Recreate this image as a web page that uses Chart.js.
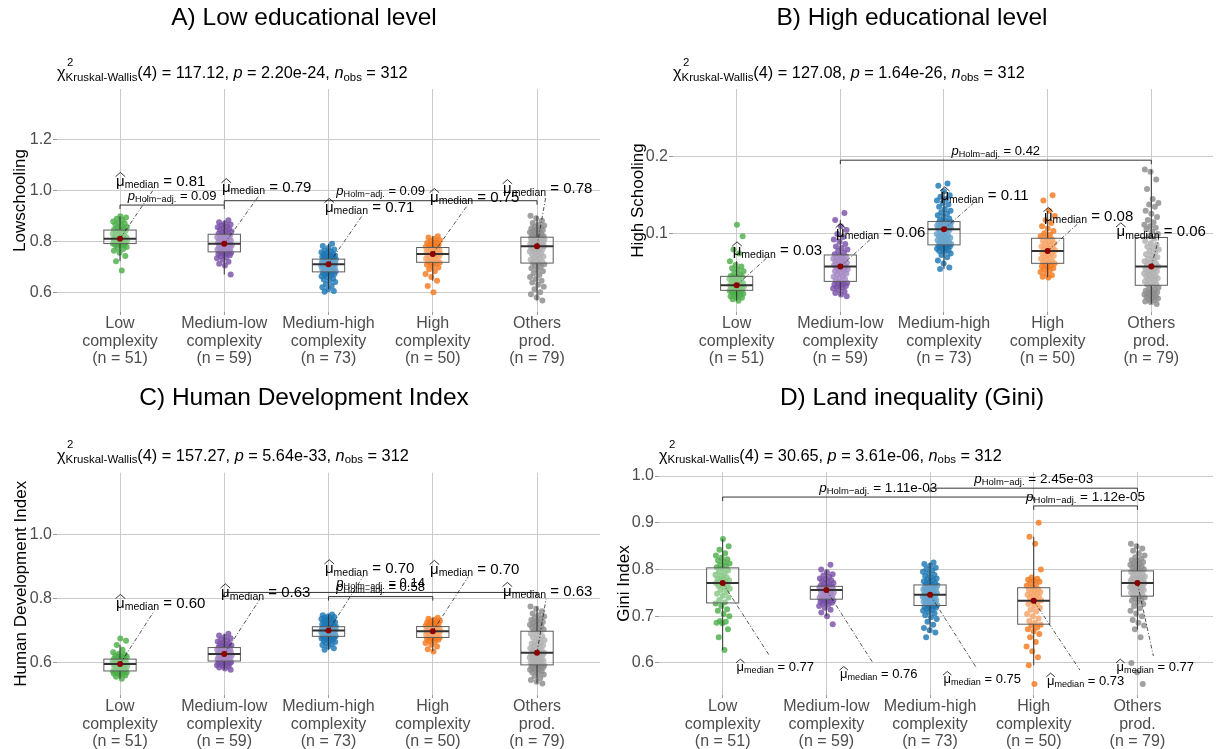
<!DOCTYPE html>
<html>
<head>
<meta charset="utf-8">
<script src="https://cdn.jsdelivr.net/npm/chart.js@4.4.1/dist/chart.umd.min.js"></script>
<style>
  html, body { margin: 0; padding: 0; background: #ffffff; }
  #wrap { position: relative; width: 1216px; height: 749px; overflow: hidden; }
  canvas { position: absolute; }
</style>
</head>
<body>
<div id="wrap">
  <canvas id="cA" width="608" height="380" style="left:0;top:0"></canvas>
  <canvas id="cB" width="608" height="380" style="left:608px;top:0"></canvas>
  <canvas id="cC" width="608" height="369" style="left:0;top:380px"></canvas>
  <canvas id="cD" width="608" height="369" style="left:608px;top:380px"></canvas>
</div>
<script>
// ---------- data ----------
const categories = ['Low complexity', 'Medium-low complexity', 'Medium-high complexity', 'High complexity', 'Others prod.'];

// share of population with low schooling, per municipality, by export complexity group
const lowSchooling = [
  [0.685,0.722,0.742,0.755,0.763,0.770,0.775,0.778,0.782,0.785,0.787,0.789,0.790,0.792,0.794,0.796,0.798,0.800,0.801,0.803,0.804,0.806,0.807,0.808,0.809,0.810,0.812,0.814,0.816,0.818,0.820,0.823,0.826,0.829,0.832,0.836,0.840,0.843,0.845,0.848,0.852,0.856,0.860,0.865,0.870,0.874,0.878,0.883,0.888,0.893,0.898],
  [0.670,0.705,0.712,0.720,0.728,0.733,0.738,0.742,0.745,0.748,0.750,0.752,0.754,0.755,0.757,0.760,0.763,0.766,0.768,0.770,0.772,0.774,0.776,0.778,0.780,0.782,0.784,0.786,0.788,0.790,0.792,0.795,0.798,0.800,0.803,0.806,0.808,0.811,0.814,0.816,0.819,0.821,0.823,0.826,0.829,0.832,0.835,0.838,0.841,0.845,0.848,0.852,0.855,0.858,0.862,0.866,0.870,0.875,0.882],
  [0.602,0.605,0.612,0.620,0.625,0.632,0.640,0.645,0.650,0.655,0.660,0.663,0.666,0.669,0.672,0.674,0.676,0.678,0.680,0.682,0.684,0.686,0.688,0.690,0.692,0.693,0.695,0.696,0.698,0.700,0.701,0.703,0.704,0.706,0.707,0.709,0.710,0.711,0.712,0.713,0.714,0.715,0.716,0.717,0.718,0.719,0.720,0.721,0.722,0.724,0.725,0.726,0.727,0.729,0.730,0.732,0.734,0.736,0.738,0.740,0.742,0.744,0.746,0.748,0.751,0.754,0.757,0.760,0.764,0.768,0.774,0.781,0.790],
  [0.600,0.625,0.645,0.660,0.672,0.682,0.690,0.697,0.703,0.708,0.712,0.715,0.717,0.719,0.722,0.725,0.728,0.731,0.734,0.737,0.740,0.743,0.745,0.747,0.749,0.751,0.753,0.755,0.757,0.759,0.761,0.763,0.765,0.767,0.769,0.771,0.774,0.776,0.778,0.781,0.784,0.787,0.790,0.793,0.796,0.800,0.804,0.809,0.815,0.820],
  [0.568,0.580,0.592,0.600,0.612,0.622,0.630,0.638,0.645,0.652,0.660,0.668,0.675,0.682,0.688,0.694,0.700,0.705,0.710,0.713,0.716,0.720,0.724,0.728,0.732,0.736,0.740,0.744,0.748,0.752,0.756,0.760,0.763,0.766,0.769,0.772,0.774,0.776,0.778,0.780,0.782,0.784,0.786,0.788,0.790,0.792,0.794,0.796,0.798,0.800,0.802,0.804,0.806,0.808,0.809,0.810,0.811,0.813,0.815,0.817,0.820,0.823,0.826,0.829,0.832,0.835,0.838,0.841,0.844,0.847,0.850,0.854,0.858,0.862,0.866,0.872,0.880,0.890,0.900]
];

// share of population with high schooling
const highSchooling = [
  [0.014,0.016,0.018,0.019,0.020,0.021,0.022,0.023,0.024,0.025,0.026,0.026,0.027,0.028,0.028,0.029,0.030,0.030,0.031,0.031,0.032,0.032,0.033,0.033,0.033,0.034,0.035,0.036,0.037,0.038,0.039,0.040,0.041,0.042,0.043,0.044,0.045,0.045,0.046,0.048,0.050,0.052,0.054,0.056,0.058,0.060,0.065,0.075,0.080,0.097,0.112],
  [0.020,0.022,0.024,0.026,0.028,0.030,0.031,0.032,0.033,0.034,0.035,0.036,0.036,0.037,0.038,0.040,0.042,0.043,0.045,0.046,0.048,0.049,0.050,0.052,0.053,0.054,0.055,0.056,0.057,0.058,0.059,0.060,0.061,0.062,0.063,0.064,0.065,0.066,0.067,0.068,0.069,0.070,0.071,0.072,0.074,0.076,0.078,0.080,0.082,0.084,0.087,0.090,0.093,0.096,0.100,0.105,0.110,0.118,0.127],
  [0.055,0.057,0.062,0.066,0.070,0.073,0.075,0.077,0.078,0.079,0.080,0.081,0.082,0.083,0.084,0.084,0.085,0.085,0.086,0.087,0.088,0.089,0.090,0.091,0.092,0.093,0.094,0.095,0.096,0.097,0.098,0.099,0.100,0.102,0.103,0.105,0.106,0.107,0.107,0.108,0.108,0.109,0.109,0.110,0.110,0.111,0.111,0.112,0.112,0.113,0.114,0.114,0.115,0.115,0.116,0.118,0.120,0.122,0.124,0.126,0.128,0.130,0.132,0.135,0.138,0.140,0.143,0.145,0.148,0.150,0.155,0.162,0.165],
  [0.044,0.045,0.047,0.049,0.051,0.053,0.055,0.056,0.057,0.058,0.059,0.060,0.062,0.063,0.064,0.065,0.067,0.068,0.069,0.071,0.072,0.073,0.075,0.076,0.077,0.079,0.080,0.081,0.082,0.083,0.084,0.086,0.087,0.088,0.090,0.091,0.093,0.095,0.097,0.099,0.101,0.104,0.107,0.110,0.114,0.118,0.123,0.130,0.143,0.150],
  [0.010,0.012,0.013,0.015,0.016,0.017,0.018,0.019,0.020,0.021,0.022,0.023,0.024,0.025,0.026,0.027,0.028,0.030,0.031,0.033,0.035,0.036,0.038,0.039,0.040,0.042,0.043,0.044,0.045,0.046,0.048,0.049,0.050,0.051,0.052,0.053,0.055,0.056,0.057,0.058,0.059,0.060,0.062,0.063,0.065,0.067,0.068,0.070,0.072,0.074,0.076,0.078,0.080,0.082,0.084,0.086,0.088,0.091,0.094,0.097,0.100,0.103,0.106,0.108,0.110,0.112,0.115,0.118,0.122,0.126,0.130,0.135,0.138,0.140,0.145,0.158,0.170,0.180,0.183]
];

// human development index
const humanDevelopment = [
  [0.550,0.556,0.560,0.563,0.565,0.567,0.568,0.569,0.570,0.571,0.572,0.573,0.573,0.575,0.577,0.579,0.581,0.583,0.585,0.587,0.589,0.591,0.592,0.594,0.595,0.596,0.597,0.598,0.599,0.600,0.601,0.602,0.603,0.604,0.605,0.607,0.608,0.610,0.612,0.614,0.616,0.618,0.620,0.622,0.625,0.628,0.632,0.640,0.655,0.668,0.675],
  [0.578,0.582,0.585,0.588,0.590,0.592,0.594,0.596,0.597,0.598,0.599,0.600,0.601,0.602,0.604,0.606,0.608,0.609,0.611,0.612,0.614,0.615,0.617,0.618,0.620,0.621,0.623,0.624,0.626,0.627,0.628,0.629,0.631,0.632,0.634,0.635,0.636,0.638,0.639,0.640,0.642,0.643,0.645,0.646,0.648,0.650,0.652,0.654,0.656,0.658,0.660,0.663,0.666,0.669,0.672,0.676,0.680,0.685,0.690],
  [0.640,0.645,0.650,0.655,0.658,0.661,0.664,0.667,0.669,0.671,0.673,0.675,0.676,0.677,0.678,0.679,0.680,0.681,0.682,0.683,0.684,0.685,0.686,0.687,0.688,0.689,0.690,0.691,0.692,0.693,0.694,0.695,0.696,0.697,0.698,0.699,0.700,0.701,0.702,0.702,0.703,0.704,0.704,0.705,0.706,0.706,0.707,0.708,0.708,0.709,0.710,0.710,0.711,0.712,0.712,0.714,0.716,0.718,0.720,0.722,0.724,0.726,0.728,0.730,0.732,0.734,0.736,0.738,0.740,0.742,0.745,0.748,0.750],
  [0.635,0.642,0.650,0.656,0.661,0.665,0.668,0.671,0.673,0.675,0.676,0.677,0.678,0.680,0.682,0.684,0.686,0.688,0.690,0.691,0.692,0.693,0.694,0.696,0.697,0.699,0.700,0.701,0.702,0.703,0.704,0.705,0.706,0.707,0.708,0.710,0.711,0.713,0.715,0.717,0.719,0.721,0.723,0.725,0.727,0.729,0.731,0.734,0.737,0.740],
  [0.535,0.540,0.546,0.552,0.558,0.563,0.567,0.570,0.573,0.576,0.578,0.580,0.582,0.584,0.586,0.587,0.588,0.590,0.591,0.592,0.594,0.596,0.598,0.600,0.602,0.604,0.606,0.608,0.610,0.612,0.614,0.616,0.618,0.620,0.622,0.624,0.626,0.628,0.630,0.631,0.633,0.636,0.639,0.642,0.645,0.648,0.651,0.654,0.657,0.660,0.663,0.666,0.670,0.674,0.678,0.682,0.686,0.690,0.696,0.700,0.703,0.706,0.709,0.712,0.715,0.718,0.721,0.724,0.727,0.730,0.733,0.736,0.740,0.744,0.748,0.753,0.760,0.768,0.775]
];

// Gini index of land ownership
const landGini = [
  [0.628,0.655,0.672,0.685,0.686,0.688,0.690,0.700,0.705,0.712,0.715,0.722,0.727,0.730,0.735,0.740,0.744,0.748,0.752,0.756,0.759,0.762,0.765,0.767,0.769,0.771,0.773,0.775,0.777,0.779,0.781,0.783,0.786,0.789,0.792,0.795,0.798,0.802,0.805,0.808,0.810,0.813,0.816,0.819,0.822,0.825,0.830,0.835,0.842,0.850,0.865],
  [0.683,0.700,0.708,0.714,0.718,0.722,0.725,0.727,0.729,0.730,0.731,0.732,0.733,0.734,0.736,0.737,0.738,0.739,0.740,0.742,0.743,0.744,0.745,0.747,0.748,0.750,0.751,0.753,0.754,0.756,0.757,0.757,0.758,0.758,0.759,0.759,0.760,0.760,0.761,0.761,0.762,0.762,0.763,0.763,0.765,0.767,0.769,0.771,0.773,0.775,0.777,0.779,0.781,0.784,0.787,0.790,0.794,0.800,0.810],
  [0.655,0.665,0.670,0.675,0.682,0.688,0.694,0.698,0.702,0.706,0.709,0.712,0.714,0.716,0.718,0.720,0.721,0.722,0.723,0.724,0.725,0.727,0.728,0.729,0.731,0.732,0.733,0.735,0.736,0.737,0.738,0.740,0.741,0.742,0.743,0.745,0.746,0.747,0.748,0.749,0.750,0.752,0.753,0.754,0.755,0.757,0.758,0.759,0.760,0.761,0.762,0.764,0.765,0.766,0.767,0.769,0.771,0.773,0.775,0.777,0.779,0.781,0.783,0.786,0.789,0.792,0.795,0.798,0.801,0.804,0.808,0.812,0.815],
  [0.555,0.595,0.612,0.625,0.635,0.645,0.655,0.662,0.668,0.672,0.676,0.680,0.682,0.686,0.690,0.695,0.700,0.705,0.710,0.714,0.718,0.722,0.726,0.729,0.732,0.734,0.737,0.740,0.742,0.744,0.746,0.748,0.750,0.752,0.754,0.756,0.758,0.762,0.765,0.768,0.771,0.774,0.776,0.778,0.780,0.783,0.800,0.855,0.870,0.900],
  [0.555,0.580,0.600,0.655,0.672,0.680,0.686,0.692,0.700,0.706,0.712,0.717,0.722,0.726,0.730,0.733,0.736,0.738,0.740,0.742,0.744,0.746,0.748,0.750,0.752,0.754,0.756,0.757,0.758,0.759,0.760,0.762,0.763,0.764,0.765,0.766,0.767,0.768,0.770,0.771,0.772,0.773,0.774,0.775,0.776,0.777,0.778,0.779,0.780,0.781,0.782,0.783,0.785,0.786,0.788,0.790,0.792,0.794,0.796,0.798,0.800,0.802,0.804,0.806,0.808,0.810,0.812,0.814,0.816,0.818,0.820,0.823,0.826,0.830,0.835,0.840,0.845,0.850,0.855]
];

// Kruskal-Wallis results: [chi-squared, p-value]
const kruskalLowSchooling = ['117.12', '2.20e-24'];
const kruskalHighSchooling = ['127.08', '1.64e-26'];
const kruskalHDI = ['157.27', '5.64e-33'];
const kruskalGini = ['30.65', '3.61e-06'];

// significant pairwise comparisons (Dunn, Holm-adjusted): [group a, group b, p]
const pairsLowSchooling = [[1, 2, '0.09'], [2, 5, '0.09']];
const pairsHighSchooling = [[2, 5, '0.42']];
const pairsHDI = [[2, 5, '0.14'], [3, 4, '0.58']];
const pairsGini = [[1, 4, '1.11e-03'], [3, 5, '2.45e-03'], [4, 5, '1.12e-05']];

// ---------- styling ----------
const FONT = "'Liberation Sans', Arial, Helvetica, sans-serif";
const groupColors = ['77,175,74', '122,82,168', '31,120,180', '244,122,32', '140,140,140'];
const GRID = '#cbcbcb';
const BOX_WIDTH = 0.31;
const JITTER = 0.072;

Chart.defaults.font.family = FONT;

// ---------- helpers ----------
function quantile(s, p) {
  const h = (s.length - 1) * p, lo = Math.floor(h);
  const hi = Math.min(lo + 1, s.length - 1);
  return s[lo] + (h - lo) * (s[hi] - s[lo]);
}
function boxStats(values) {
  const s = values.slice().sort((a, b) => a - b);
  const q1 = quantile(s, 0.25), med = quantile(s, 0.5), q3 = quantile(s, 0.75);
  const iqr = q3 - q1;
  const lo = s.find(v => v >= q1 - 1.5 * iqr);
  const hi = s.filter(v => v <= q3 + 1.5 * iqr).pop();
  return { q1, med, q3, lo, hi };
}
// deterministic horizontal spread of the points around each category
function jitter(i, k) {
  const u = ((i + 1) * 0.6180339887 + k * 0.31) % 1;
  return (u - 0.5) * 2 * JITTER;
}

// rich text: parts are {t, sub, sup, italic, hat, noAdvance}
function richFont(part, size) {
  const fs = (part.sub || part.sup) ? size * 0.7 : size;
  return (part.italic ? 'italic ' : '') + fs + 'px ' + FONT;
}
function richWidth(ctx, parts, size) {
  let w = 0;
  for (const p of parts) {
    ctx.font = richFont(p, size);
    if (!p.noAdvance) w += ctx.measureText(p.t).width;
  }
  return w;
}
function drawRich(ctx, x, cy, parts, size, color) {
  const base = cy + size * 0.36;
  let cx = x;
  ctx.fillStyle = color || '#000';
  ctx.strokeStyle = color || '#000';
  ctx.textAlign = 'left';
  ctx.textBaseline = 'alphabetic';
  for (const p of parts) {
    ctx.font = richFont(p, size);
    const dy = p.sub ? size * 0.16 : p.sup ? -size * 0.78 : 0;
    ctx.fillText(p.t, cx + (p.sup ? 1.5 : 0), base + dy);
    const w = ctx.measureText(p.t).width;
    if (p.hat) {
      ctx.save();
      ctx.lineWidth = 0.8;
      ctx.setLineDash([]);
      ctx.beginPath();
      ctx.moveTo(cx - 0.5, base - size * 0.62);
      ctx.lineTo(cx + w / 2, base - size * 0.9);
      ctx.lineTo(cx + w + 0.5, base - size * 0.62);
      ctx.stroke();
      ctx.restore();
    }
    if (!p.noAdvance) cx += w;
  }
}
const medianParts = v => [{ t: 'μ', hat: true }, { t: 'median', sub: true }, { t: ' = ' + v }];
const pParts = v => [{ t: 'p', italic: true }, { t: 'Holm\u2212adj.', sub: true }, { t: ' = ' + v }];
function kruskalParts(stat, n, df) {
  return [
    { t: 'χ' }, { t: '2', sup: true, noAdvance: true }, { t: 'Kruskal-Wallis', sub: true },
    { t: '(' + df + ') = ' + stat[0] + ', ' }, { t: 'p', italic: true }, { t: ' = ' + stat[1] + ', ' },
    { t: 'n', italic: true }, { t: 'obs', sub: true }, { t: ' = ' + n }
  ];
}

// ---------- overlay: boxes, brackets, labels, titles ----------
function overlay(panel) {
  return {
    id: 'overlay',
    afterDatasetsDraw(chart) {
      const { ctx, scales: { x, y } } = chart;
      const stats = panel.groups.map(boxStats);
      ctx.save();
      // boxes
      stats.forEach((s, k) => {
        const cx = x.getPixelForValue(k + 1);
        const hw = x.getPixelForValue(k + 1 + BOX_WIDTH / 2) - cx;
        const yq1 = y.getPixelForValue(s.q1), yq3 = y.getPixelForValue(s.q3), ym = y.getPixelForValue(s.med);
        ctx.setLineDash([]);
        ctx.strokeStyle = '#333333';
        ctx.lineWidth = 1;
        ctx.beginPath();
        ctx.moveTo(cx, y.getPixelForValue(s.lo)); ctx.lineTo(cx, yq1);
        ctx.moveTo(cx, yq3); ctx.lineTo(cx, y.getPixelForValue(s.hi));
        ctx.stroke();
        ctx.fillStyle = 'rgba(255,255,255,0.32)';
        ctx.fillRect(cx - hw, yq3, 2 * hw, yq1 - yq3);
        ctx.strokeStyle = '#5c5c5c';
        ctx.strokeRect(cx - hw, yq3, 2 * hw, yq1 - yq3);
        ctx.strokeStyle = '#333333';
        ctx.lineWidth = 2;
        ctx.beginPath(); ctx.moveTo(cx - hw, ym); ctx.lineTo(cx + hw, ym); ctx.stroke();
      });
      // pairwise brackets
      panel.pairs.forEach((pr, j) => {
        const yv = y.getPixelForValue(panel.bracketAt[j]);
        const x1 = x.getPixelForValue(pr[0]), x2 = x.getPixelForValue(pr[1]);
        ctx.setLineDash([]);
        ctx.strokeStyle = '#333333';
        ctx.lineWidth = 1;
        ctx.beginPath();
        ctx.moveTo(x1, yv + 4); ctx.lineTo(x1, yv); ctx.lineTo(x2, yv); ctx.lineTo(x2, yv + 4);
        ctx.stroke();
        const parts = pParts(pr[2]);
        const w = richWidth(ctx, parts, panel.pSize);
        drawRich(ctx, (x1 + x2) / 2 - w / 2, yv - 10, parts, panel.pSize, '#000');
      });
      // median markers, leader segments and labels
      stats.forEach((s, k) => {
        const label = s.med.toFixed(2);
        const px = x.getPixelForValue(k + 1), py = y.getPixelForValue(s.med);
        const at = panel.medianLabelAt[k];
        const lx = x.getPixelForValue(at[0]), lcy = y.getPixelForValue(at[1]);
        const parts = medianParts(label);
        const sz = panel.labelSize;
        const w = richWidth(ctx, parts, sz);
        const L = lx, R = lx + w, T = lcy - sz * 0.78, B = lcy + sz * 0.55;
        const cxm = (L + R) / 2, cym = (T + B) / 2;
        let tx = 0, ty = 0;
        if (px < L) tx = (L - px) / (cxm - px); else if (px > R) tx = (R - px) / (cxm - px);
        if (py < T) ty = (T - py) / (cym - py); else if (py > B) ty = (B - py) / (cym - py);
        const t = Math.max(tx, ty);
        if (t > 0) {
          ctx.strokeStyle = '#1a1a1a';
          ctx.lineWidth = 0.75;
          ctx.setLineDash([4, 2, 1, 2]);
          ctx.beginPath();
          ctx.moveTo(px, py);
          ctx.lineTo(px + t * (cxm - px), py + t * (cym - py));
          ctx.stroke();
          ctx.setLineDash([]);
        }
        ctx.fillStyle = '#8b0000';
        ctx.beginPath(); ctx.arc(px, py, 3, 0, Math.PI * 2); ctx.fill();
        drawRich(ctx, lx, lcy, parts, sz, '#000');
      });
      ctx.restore();
    },
    afterDraw(chart) {
      const { ctx, chartArea } = chart;
      ctx.save();
      // panel title
      ctx.fillStyle = '#000';
      ctx.font = '24.5px ' + FONT;
      ctx.textAlign = 'center';
      ctx.textBaseline = 'middle';
      ctx.fillText(panel.title, chart.width / 2, panel.titleY);
      // test statistics line
      const n = panel.groups.reduce((a, g) => a + g.length, 0);
      drawRich(ctx, chartArea.left, panel.subtitleY, kruskalParts(panel.kruskal, n, categories.length - 1), 16.3, '#000');
      // y-axis title
      ctx.save();
      ctx.translate(panel.yTitleX, (chartArea.top + chartArea.bottom) / 2);
      ctx.rotate(-Math.PI / 2);
      ctx.font = '17px ' + FONT;
      ctx.textAlign = 'center';
      ctx.textBaseline = 'middle';
      ctx.fillStyle = '#000';
      ctx.fillText(panel.yTitle, 0, 0);
      ctx.restore();
      ctx.restore();
    }
  };
}

// ---------- chart factory ----------
function makeChart(panel) {
  const canvas = document.getElementById(panel.canvas);
  const H = canvas.height, W = canvas.width;
  const datasets = panel.groups.map((vals, k) => ({
    data: vals.map((v, i) => ({ x: k + 1 + jitter(i, k), y: v })),
    backgroundColor: 'rgba(' + groupColors[k] + ',0.82)',
    borderWidth: 0,
    pointRadius: 3,
    pointHoverRadius: 3
  }));
  return new Chart(canvas, {
    type: 'scatter',
    data: { datasets },
    options: {
      responsive: false,
      animation: false,
      events: [],
      layout: { padding: { left: 0, right: W - panel.area.right, top: panel.area.top, bottom: 0 } },
      plugins: { legend: { display: false }, tooltip: { enabled: false } },
      scales: {
        x: {
          type: 'linear',
          min: panel.xRange[0],
          max: panel.xRange[1],
          afterBuildTicks: s => { s.ticks = categories.map((c, i) => ({ value: i + 1 })); },
          afterFit: s => { s.height = H - panel.area.bottom; },
          border: { display: false },
          grid: { color: GRID, lineWidth: 1, drawTicks: true, tickLength: 3, tickColor: '#9a9a9a' },
          ticks: {
            autoSkip: false, maxRotation: 0, minRotation: 0, padding: 0,
            color: '#4d4d4d',
            font: { family: FONT, size: 16, lineHeight: 1.1 },
            callback: v => {
              const k = Math.round(v) - 1;
              return categories[k].split(' ').concat('(n = ' + panel.groups[k].length + ')');
            }
          }
        },
        y: {
          type: 'linear',
          min: panel.yRange[0],
          max: panel.yRange[1],
          afterBuildTicks: s => { s.ticks = panel.yTicks.map(v => ({ value: v })); },
          afterFit: s => { s.width = panel.area.left; },
          border: { display: false },
          grid: { color: GRID, lineWidth: 1, drawTicks: true, tickLength: 4, tickColor: '#9a9a9a' },
          ticks: {
            padding: 1,
            color: '#4d4d4d',
            font: { family: FONT, size: 16 },
            callback: v => Number(v).toFixed(1)
          }
        }
      }
    },
    plugins: [overlay(panel)]
  });
}

// ---------- panels ----------
const panels = [
  {
    canvas: 'cA', title: 'A) Low educational level', yTitle: 'Lowschooling',
    groups: lowSchooling, kruskal: kruskalLowSchooling, pairs: pairsLowSchooling,
    area: { left: 57, right: 600, top: 89, bottom: 312 },
    xRange: [0.3957, 5.604], yRange: [0.5227, 1.397], yTicks: [0.6, 0.8, 1.0, 1.2],
    bracketAt: [0.942, 0.959],
    medianLabelAt: [[0.962, 1.038], [1.978, 1.014], [2.966, 0.936], [3.974, 0.975], [4.674, 1.010]],
    titleY: 18.5, subtitleY: 72.5, yTitleX: 20, labelSize: 15, pSize: 13
  },
  {
    canvas: 'cB', title: 'B) High educational level', yTitle: 'High Schooling',
    groups: highSchooling, kruskal: kruskalHighSchooling, pairs: pairsHighSchooling,
    area: { left: 65, right: 608, top: 89, bottom: 312 },
    xRange: [0.386, 5.595], yRange: [-0.0004, 0.2866], yTicks: [0.1, 0.2],
    bracketAt: [0.195],
    medianLabelAt: [[0.962, 0.0794], [1.959, 0.1030], [2.966, 0.1502], [3.964, 0.1236], [4.664, 0.1039]],
    titleY: 18.5, subtitleY: 72.5, yTitleX: 30, labelSize: 15, pSize: 13
  },
  {
    canvas: 'cC', title: 'C) Human Development Index', yTitle: 'Human Development Index',
    groups: humanDevelopment, kruskal: kruskalHDI, pairs: pairsHDI,
    area: { left: 57, right: 600, top: 92.7, bottom: 315 },
    xRange: [0.3957, 5.604], yRange: [0.499, 1.1925], yTicks: [0.6, 0.8, 1.0],
    bracketAt: [0.819, 0.806],
    medianLabelAt: [[0.962, 0.7875], [1.969, 0.8206], [2.966, 0.8956], [3.974, 0.8937], [4.674, 0.825]],
    titleY: 18.5, subtitleY: 75, yTitleX: 21, labelSize: 15, pSize: 13
  },
  {
    canvas: 'cD', title: 'D) Land inequality (Gini)', yTitle: 'Gini Index',
    groups: landGini, kruskal: kruskalGini, pairs: pairsGini,
    area: { left: 51, right: 608, top: 92, bottom: 315 },
    xRange: [0.386, 5.729], yRange: [0.5315, 1.0086], yTicks: [0.6, 0.7, 0.8, 0.9, 1.0],
    bracketAt: [0.955, 0.974, 0.936],
    medianLabelAt: [[1.134, 0.5931], [2.132, 0.5775], [3.13, 0.5668], [4.127, 0.5632], [4.799, 0.5931]],
    titleY: 18.5, subtitleY: 75, yTitleX: 16, labelSize: 13, pSize: 13.5
  }
];

panels.forEach(makeChart);
</script>
</body>
</html>
